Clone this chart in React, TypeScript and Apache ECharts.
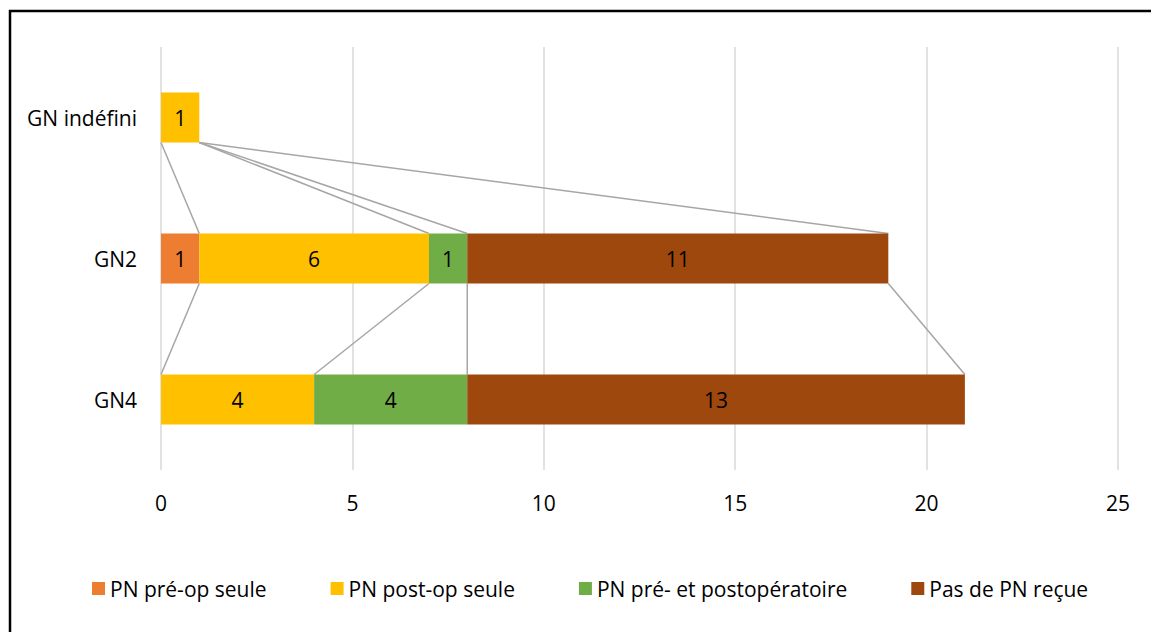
import React, { useEffect, useRef } from "react";
import * as echarts from "echarts";

// Categories (top to bottom) and the count of patients in each group
const categories = ["GN indéfini", "GN2", "GN4"];
const seriesNames = [
  "PN pré-op seule",
  "PN post-op seule",
  "PN pré- et postopératoire",
  "Pas de PN reçue",
];
const preOpOnly = [0, 1, 0];
const postOpOnly = [1, 6, 4];
const preAndPostOp = [0, 1, 4];
const noPN = [0, 11, 13];
const xTicks = { min: 0, max: 25, interval: 5 };

const colors = ["#ED7D31", "#FFC000", "#70AD47", "#9E480E"];
const FONT = "Open Sans";
const FONT_SIZE = 21;
const BAR_W = 50;

export default function App() {
  const ref = useRef<HTMLDivElement>(null);

  useEffect(() => {
    if (!ref.current) return;
    const chart = echarts.init(ref.current, undefined, { renderer: "svg" });

    const values = [preOpOnly, postOpOnly, preAndPostOp, noPN];

    // cumulative end of each stacked segment, per series and category
    const cumulative = values.map((_, s) =>
      categories.map((__, c) => {
        let sum = 0;
        for (let k = 0; k <= s; k++) sum += values[k][c];
        return sum;
      })
    );

    // series lines joining segment ends between neighbouring bars
    const connectorData: number[][] = [];
    cumulative.forEach((ends) => {
      for (let c = 0; c < categories.length - 1; c++) {
        connectorData.push([ends[c], ends[c + 1], c]);
      }
    });

    const barSeries = values.map((data, i) => ({
      name: seriesNames[i],
      type: "bar",
      stack: "total",
      barWidth: BAR_W,
      data,
      z: 3,
      itemStyle: { color: colors[i] },
      label: {
        show: true,
        position: "inside",
        color: "#000",
        fontFamily: FONT,
        fontSize: FONT_SIZE,
        formatter: (p: any) => (p.value ? String(p.value) : ""),
      },
    }));

    chart.setOption({
      animation: false,
      textStyle: { fontFamily: FONT },
      graphic: [
        {
          type: "rect",
          shape: { x: 10, y: 11, width: 1300, height: 800 },
          style: { fill: "none", stroke: "#000", lineWidth: 2.5 },
          silent: true,
        },
      ],
      grid: { left: 161, right: 33, top: 47, bottom: 162, containLabel: false },
      xAxis: {
        type: "value",
        min: xTicks.min,
        max: xTicks.max,
        interval: xTicks.interval,
        axisLine: { show: false },
        axisTick: { show: false },
        splitLine: { lineStyle: { color: "#d9d9d9", width: 1.5 } },
        axisLabel: { color: "#000", fontFamily: FONT, fontSize: FONT_SIZE, margin: 22 },
      },
      yAxis: {
        type: "category",
        data: categories,
        inverse: true,
        axisLine: { show: false },
        axisTick: { show: false },
        axisLabel: { color: "#000", fontFamily: FONT, fontSize: FONT_SIZE, margin: 24 },
      },
      legend: {
        data: seriesNames,
        left: 87,
        top: 573,
        icon: "rect",
        itemWidth: 13,
        itemHeight: 13,
        itemGap: 64,
        textStyle: { color: "#000", fontFamily: FONT, fontSize: FONT_SIZE },
      },
      series: [
        ...barSeries,
        {
          type: "custom",
          name: "series-lines",
          silent: true,
          z: 2,
          data: connectorData,
          encode: { x: [0, 1], y: 2 },
          renderItem: (params: any, api: any) => {
            const from = api.coord([api.value(0), api.value(2)]);
            const to = api.coord([api.value(1), api.value(2) + 1]);
            return {
              type: "line",
              shape: {
                x1: from[0],
                y1: from[1] + BAR_W / 2,
                x2: to[0],
                y2: to[1] - BAR_W / 2,
              },
              style: { stroke: "#a6a6a6", lineWidth: 1.5 },
            };
          },
        },
      ],
    });

    return () => chart.dispose();
  }, []);

  return (
    <div
      ref={ref}
      style={{ position: "absolute", left: 0, top: 0, width: 1151, height: 632, background: "#fff" }}
    />
  );
}
